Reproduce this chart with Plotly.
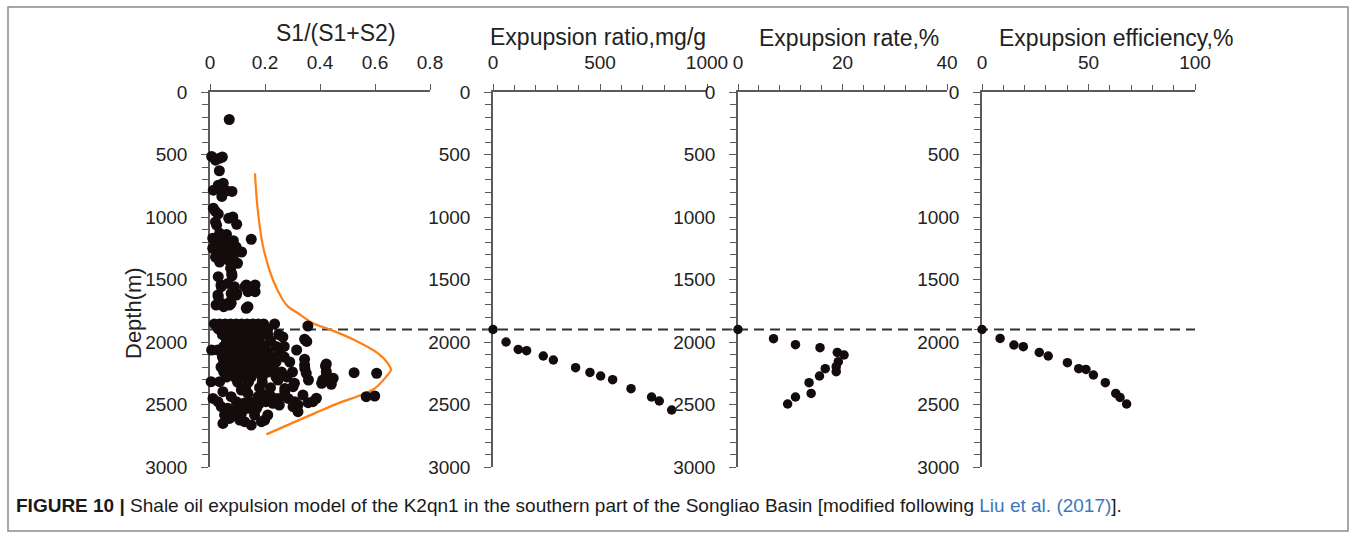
import plotly.graph_objects as go

# ---- S1/(S1+S2) versus depth (panel 1) ----
s1_depth = [
    220, 515, 530, 545, 520, 630, 730, 745, 785, 780, 790, 795, 835,
    930, 955, 975, 1000, 1010, 1040, 1058, 1065,
    1130, 1140, 1150, 1178, 1170, 1180, 1185, 1190, 1200, 1210, 1220, 1230, 1240,
    1250, 1255, 1265, 1280, 1290, 1300, 1310, 1320, 1330, 1350, 1360, 1370,
    1410, 1451, 1470, 1477, 1531, 1544, 1544, 1544, 1557, 1557, 1557, 1597, 1597,
    1611, 1611, 1624, 1624, 1637, 1677, 1690, 1690, 1704, 1704, 1717, 1717, 1730,
    1855, 1855, 1855, 1855, 1855, 1855, 1855, 1855, 1855, 1855, 1855, 1872,
    1895, 1895, 1895, 1895, 1895, 1895, 1895, 1895, 1895,
    1940, 1940, 1940, 1940, 1940, 1940, 1940, 1940, 1960, 1978, 1995,
    1990, 1990, 1990, 1990, 1990, 1990,
    2035, 2035, 2035, 2035, 2035, 2035, 2035, 2035, 2064, 2064, 2064,
    2080, 2080, 2080, 2080, 2080, 2080, 2080,
    2120, 2120, 2120, 2120, 2120, 2120, 2120, 2120, 2138,
    2160, 2160, 2160, 2160, 2160, 2160, 2160, 2160, 2176, 2184, 2192,
    2200, 2200, 2200, 2200, 2200, 2200, 2200, 2211, 2237,
    2240, 2240, 2240, 2240, 2240, 2240, 2240, 2240, 2245, 2250, 2250, 2264,
    2280, 2280, 2280, 2280, 2280, 2280, 2280, 2290,
    2304, 2304, 2304, 2304, 2317, 2317, 2320, 2320, 2320, 2330, 2330, 2338,
    2357, 2371, 2365, 2365, 2365, 2384, 2397, 2397, 2411, 2424, 2424, 2432,
    2437, 2437, 2437, 2437, 2450, 2451, 2451, 2451,
    2477, 2477, 2477, 2477, 2477, 2477, 2485, 2490, 2490, 2490, 2504, 2504,
    2517, 2517, 2530, 2530, 2530, 2530, 2557, 2571, 2584, 2584, 2584, 2584,
    2611, 2624, 2624, 2637, 2637, 2651, 2664,
]
s1_ratio = [
    0.070, 0.006, 0.034, 0.020, 0.045, 0.034, 0.048, 0.030, 0.012, 0.040, 0.060, 0.080, 0.043,
    0.012, 0.020, 0.030, 0.083, 0.068, 0.020, 0.097, 0.024,
    0.035, 0.060, 0.045, 0.150, 0.010, 0.035, 0.060, 0.085, 0.020, 0.050, 0.072, 0.030, 0.095,
    0.010, 0.045, 0.065, 0.115, 0.035, 0.055, 0.085, 0.020, 0.045, 0.070, 0.035, 0.100,
    0.075, 0.079, 0.080, 0.030, 0.065, 0.040, 0.132, 0.164, 0.041, 0.089, 0.127, 0.138, 0.164,
    0.077, 0.097, 0.029, 0.096, 0.030, 0.073, 0.041, 0.077, 0.022, 0.071, 0.050, 0.138, 0.132,
    0.016, 0.035, 0.055, 0.075, 0.095, 0.115, 0.135, 0.155, 0.175, 0.195, 0.235, 0.356,
    0.030, 0.050, 0.070, 0.090, 0.110, 0.130, 0.150, 0.170, 0.210,
    0.045, 0.070, 0.100, 0.125, 0.150, 0.180, 0.210, 0.250, 0.265, 0.344, 0.352,
    0.060, 0.090, 0.120, 0.150, 0.180, 0.220,
    0.050, 0.080, 0.110, 0.140, 0.170, 0.200, 0.240, 0.270, 0.006, 0.028, 0.315,
    0.060, 0.090, 0.120, 0.150, 0.180, 0.210, 0.250,
    0.045, 0.070, 0.100, 0.130, 0.160, 0.190, 0.220, 0.270, 0.344,
    0.050, 0.080, 0.110, 0.140, 0.170, 0.200, 0.240, 0.290, 0.423, 0.344, 0.420,
    0.040, 0.070, 0.100, 0.130, 0.160, 0.190, 0.230, 0.345, 0.423,
    0.050, 0.080, 0.110, 0.140, 0.170, 0.210, 0.260, 0.300, 0.524, 0.606, 0.350, 0.424,
    0.060, 0.090, 0.120, 0.150, 0.190, 0.240, 0.280, 0.448,
    0.410, 0.358, 0.429, 0.247, 0.004, 0.035, 0.100, 0.140, 0.190, 0.406, 0.307, 0.441,
    0.302, 0.272, 0.130, 0.180, 0.220, 0.114, 0.047, 0.272, 0.138, 0.199, 0.338, 0.599,
    0.568, 0.175, 0.223, 0.077, 0.387, 0.011, 0.247, 0.284,
    0.029, 0.096, 0.145, 0.204, 0.308, 0.374, 0.357, 0.123, 0.180, 0.229, 0.252, 0.320,
    0.041, 0.302, 0.065, 0.138, 0.170, 0.100, 0.320, 0.114, 0.053, 0.089, 0.162, 0.210,
    0.071, 0.108, 0.199, 0.126, 0.187, 0.047, 0.150,
]

# Expulsion model envelope drawn over the S1/(S1+S2) cloud
curve_depth = [650, 704, 970, 1237, 1504, 1664, 1717, 1770, 1850, 1904, 1984,
               2091, 2171, 2224, 2277, 2371, 2424, 2491, 2571, 2651, 2739]
curve_ratio = [0.164, 0.165, 0.175, 0.193, 0.229, 0.265, 0.284, 0.320, 0.375, 0.441, 0.525,
               0.611, 0.647, 0.658, 0.641, 0.599, 0.550, 0.465, 0.380, 0.296, 0.205]

# ---- Expulsion ratio, mg/g (panel 2) ----
ratio_depth = [1900, 2000, 2059, 2069, 2112, 2144, 2205, 2243, 2272, 2301, 2373, 2440, 2472, 2544]
ratio_mg_g = [0, 61, 118, 157, 235, 282, 386, 453, 503, 559, 645, 741, 777, 835]

# ---- Expulsion rate, % (panel 3) ----
rate_depth = [1900, 1973, 2021, 2045, 2083, 2104, 2157, 2197, 2237, 2213, 2272, 2325, 2411, 2440, 2496]
rate_pct = [0, 6.8, 11.0, 15.7, 19.0, 20.3, 19.2, 18.8, 18.8, 16.7, 15.6, 13.6, 14.0, 11.0, 9.5]

# ---- Expulsion efficiency, % (panel 4) ----
eff_depth = [1900, 1971, 2024, 2037, 2083, 2112, 2165, 2213, 2219, 2264, 2325, 2411, 2443, 2496]
eff_pct = [0, 8.5, 15.0, 19.4, 26.9, 31.1, 40.1, 45.4, 48.8, 52.3, 57.9, 62.8, 64.8, 67.9]

threshold_depth = 1900

panel_titles = ["S1/(S1+S2)", "Expupsion ratio,mg/g", "Expupsion rate,%", "Expupsion efficiency,%"]
x_ranges = [[0, 0.8], [0, 1000], [0, 40], [0, 100]]
x_dticks = [0.2, 500, 20, 50]
x_minor = [None, 100, 4, 10]

W, H = 1356, 538
FONT = "Liberation Sans, Arial, sans-serif"
AXIS_COLOR = "#5a5a5a"
DOT = "#140c0c"

def px(x):
    return x / W

def py(y):
    return 1 - y / H

# pixel extents of each panel
x_px = [(210, 430), (493, 707), (738, 947), (982, 1195)]
y_top, y_bot = 92, 467

fig = go.Figure()

fig.add_trace(go.Scatter(x=curve_ratio, y=curve_depth, mode="lines", line_shape="spline",
                         line=dict(color="#ff7f14", width=2.2), xaxis="x", yaxis="y",
                         showlegend=False, hoverinfo="skip"))
fig.add_trace(go.Scatter(x=s1_ratio, y=s1_depth, mode="markers",
                         marker=dict(color=DOT, size=11), xaxis="x", yaxis="y",
                         cliponaxis=False, showlegend=False))
fig.add_trace(go.Scatter(x=ratio_mg_g, y=ratio_depth, mode="markers",
                         marker=dict(color=DOT, size=9.5), xaxis="x2", yaxis="y2",
                         cliponaxis=False, showlegend=False))
fig.add_trace(go.Scatter(x=rate_pct, y=rate_depth, mode="markers",
                         marker=dict(color=DOT, size=9.5), xaxis="x3", yaxis="y3",
                         cliponaxis=False, showlegend=False))
fig.add_trace(go.Scatter(x=eff_pct, y=eff_depth, mode="markers",
                         marker=dict(color=DOT, size=9.5), xaxis="x4", yaxis="y4",
                         cliponaxis=False, showlegend=False))

layout = dict(
    template="none",
    width=W, height=H, autosize=False,
    margin=dict(l=0, r=0, t=0, b=0, pad=0, autoexpand=False),
    paper_bgcolor="white", plot_bgcolor="white",
    font=dict(family=FONT, color="#222222", size=19),
    showlegend=False,
)

for i in range(4):
    sfx = "" if i == 0 else str(i + 1)
    xa = dict(
        domain=[px(x_px[i][0]), px(x_px[i][1])],
        range=x_ranges[i], side="top", anchor="y" + sfx, automargin=False,
        showline=True, linecolor=AXIS_COLOR, linewidth=1.5,
        ticks="outside", ticklen=6, tickwidth=1.2, tickcolor=AXIS_COLOR,
        dtick=x_dticks[i], tick0=0, showgrid=False, zeroline=False,
        tickfont=dict(size=19, family=FONT, color="#222222"),
        ticklabelstandoff=8, layer="below traces",
    )
    if x_minor[i] is not None:
        xa["minor"] = dict(dtick=x_minor[i], tick0=0, ticks="outside", ticklen=5,
                           tickwidth=1.2, tickcolor=AXIS_COLOR, showgrid=False)
    ya = dict(
        domain=[py(y_bot), py(y_top)],
        range=[3000, 0], anchor="x" + sfx, automargin=False,
        showline=True, linecolor=AXIS_COLOR, linewidth=1.5,
        ticks="outside", ticklen=7, tickwidth=1.2, tickcolor=AXIS_COLOR,
        dtick=500, tick0=0, showgrid=False, zeroline=False,
        tickfont=dict(size=19, family=FONT, color="#222222"),
        ticklabelstandoff=10, layer="below traces",
        minor=dict(dtick=100, tick0=0, ticks="outside", ticklen=6, tickwidth=1.2,
                   tickcolor=AXIS_COLOR, showgrid=False),
    )
    layout["xaxis" + sfx] = xa
    layout["yaxis" + sfx] = ya

fig.update_layout(**layout)

# panel titles
title_pos = [(336, 33), (598, 37), (849, 38), (1116, 38)]
for t, (cx, cy) in zip(panel_titles, title_pos):
    fig.add_annotation(text=t, x=px(cx), y=py(cy), xref="paper", yref="paper",
                       showarrow=False, xanchor="center", yanchor="middle",
                       font=dict(size=23, family=FONT, color="#222222"))

fig.add_annotation(text="Depth(m)", x=px(133), y=py(313), xref="paper", yref="paper",
                   showarrow=False, textangle=-90, xanchor="center", yanchor="middle",
                   font=dict(size=22, family=FONT, color="#222222"))

fig.add_annotation(
    text=("<b>FIGURE 10 |</b> Shale oil expulsion model of the K2qn1 in the southern part of the "
          "Songliao Basin [modified following <span style='color:#3a78c0'>Liu et al. (2017)</span>]."),
    x=px(14), y=py(505), xref="paper", yref="paper", showarrow=False,
    xanchor="left", yanchor="middle", align="left",
    font=dict(size=19, family=FONT, color="#1a1a1a"))

# threshold depth marker across all panels
fig.add_shape(type="line", xref="paper", yref="y", x0=px(210), x1=px(1195),
              y0=threshold_depth, y1=threshold_depth, layer="below",
              line=dict(color="#333333", width=1.8, dash="10px,6px"))

# outer frame
fig.add_shape(type="rect", xref="paper", yref="paper", x0=px(8), x1=px(1348),
              y0=py(531), y1=py(7), layer="below",
              line=dict(color="#8a8a8a", width=1.5), fillcolor="rgba(0,0,0,0)")

# page without body margin so the figure fills the window exactly
fig.write_html("out.html",
               post_script="document.body.style.margin='0';document.body.style.overflow='hidden';")
